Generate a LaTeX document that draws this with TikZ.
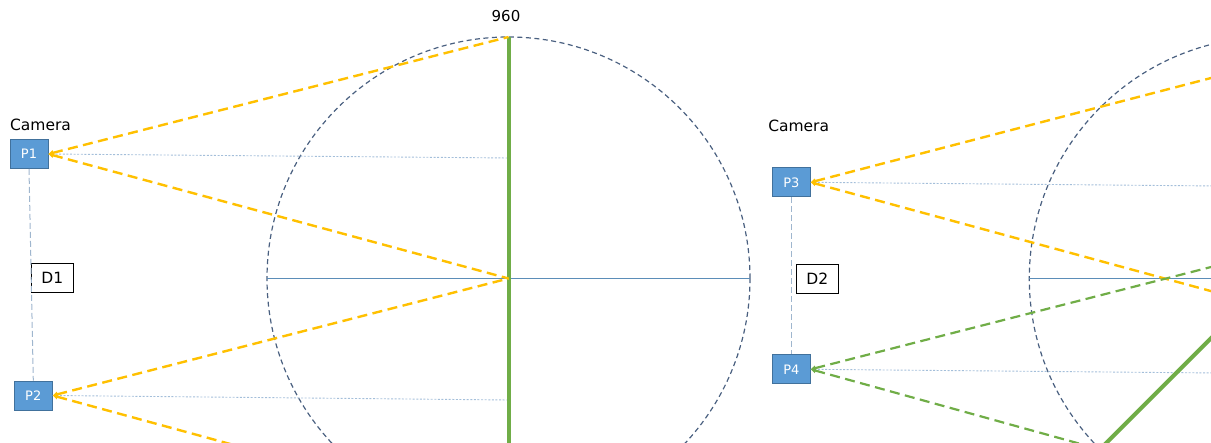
\documentclass[tikz,border=0pt]{standalone}
\usepackage{fontspec}
\setmainfont{DejaVu Sans}
\usetikzlibrary{arrows.meta}
\definecolor{pfill}{HTML}{5B9BD5}
\definecolor{pborder}{HTML}{41719C}
\definecolor{ylw}{HTML}{FFC000}
\definecolor{grn}{HTML}{70AD47}
\definecolor{circc}{HTML}{4A6080}
\definecolor{axisc}{HTML}{5B8DB8}
\definecolor{dotc}{HTML}{A4BFDA}
\definecolor{connc}{HTML}{9FB6CE}
\tikzset{
  pbox/.style={draw=pborder, line width=0.8pt, fill=pfill, text=white, minimum width=38pt, minimum height=29pt, inner sep=0pt, font=\fontsize{13}{15}\selectfont},
  dbox/.style={draw=black, line width=0.9pt, fill=white, minimum width=42pt, minimum height=29pt, inner sep=0pt, font=\fontsize{15.5}{17}\selectfont},
  lbl/.style={inner sep=0pt, font=\fontsize{15.5}{17}\selectfont},
  ylwray/.style={draw=ylw, line width=2.4pt, dash pattern=on 10pt off 5.5pt, <-},
  grnray/.style={draw=grn, line width=2.2pt, dash pattern=on 10pt off 5.5pt, <-},
  circline/.style={draw=circc, line width=1.2pt, dash pattern=on 5pt off 3.5pt},
  axisline/.style={draw=axisc, line width=1pt},
  dotline/.style={draw=dotc, line width=0.9pt, dash pattern=on 2pt off 1.6pt},
  connline/.style={draw=connc, line width=1pt, dash pattern=on 6pt off 3pt},
  thickgrn/.style={draw=grn, line width=4pt},
  >={Triangle[length=5pt,width=5pt]}
}
\begin{document}
\begin{tikzpicture}[x=1pt,y=-1pt]
\useasboundingbox (0,0) rectangle (1211,443);
\clip (0,0) rectangle (1211,443);
% ---------- left diagram ----------
\coordinate (c1) at (508.5,278.5);
\coordinate (top1) at (508.5,37);
\coordinate (bot1) at (508.5,520);
\coordinate (l1) at (267,278.5);
\coordinate (r1) at (750,278.5);
\coordinate (d1a) at (508.5,158);
\coordinate (d1b) at (508.5,400);
\draw[circline] (c1) circle [radius=241.5pt];
\draw[axisline] (l1) -- (r1);
\node[pbox] (P1) at (29,154) {P1};
\node[pbox] (P2) at (33.3,395.5) {P2};
\node[dbox] (D1) at (52.3,278) {D1};
\node[lbl] (cam1) at (40.5,124.5) {Camera};
\node[lbl, font=\fontsize{15}{16}\selectfont] (n960) at (506,16) {960};
\draw[connline] (P1.south) -- (P2.north);
\draw[dotline] (P1.east) -- (d1a);
\draw[dotline] (P2.east) -- (d1b);
\draw[thickgrn] (top1) -- (bot1);
\draw[ylwray] (P1.east) -- (top1);
\draw[ylwray] (P1.east) -- (c1);
\draw[ylwray] (P2.east) -- (c1);
\draw[ylwray] (P2.east) -- (bot1);
% ---------- right diagram ----------
\coordinate (c2) at (1270.8,278.5);
\coordinate (l2) at (1029.3,278.5);
\coordinate (r2) at (1512.3,278.5);
\coordinate (gt2) at (1441.6,107.7);
\coordinate (gb2) at (1100,449.3);
\coordinate (y3a) at (1271,62.4);
\coordinate (y3b) at (1271,307.4);
\coordinate (g4a) at (1271,251.7);
\coordinate (d3a) at (1271,186.5);
\coordinate (d4a) at (1271,373.5);
\draw[circline] (c2) circle [radius=241.5pt];
\draw[axisline] (l2) -- (r2);
\node[pbox] (P3) at (791.3,182.3) {P3};
\node[pbox] (P4) at (791.3,369.3) {P4};
\node[dbox] (D2) at (817.3,278.8) {D2};
\node[lbl] (cam2) at (798.7,125.5) {Camera};
\draw[connline] (P3.south) -- (P4.north);
\draw[dotline] (P3.east) -- (d3a);
\draw[dotline] (P4.east) -- (d4a);
\draw[thickgrn] (gt2) -- (gb2);
\draw[ylwray] (P3.east) -- (y3a);
\draw[ylwray] (P3.east) -- (y3b);
\draw[grnray] (P4.east) -- (g4a);
\draw[grnray] (P4.east) -- (gb2);
\end{tikzpicture}
\end{document}
